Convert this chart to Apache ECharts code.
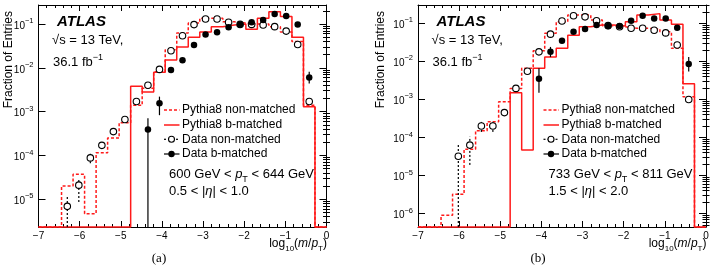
<!DOCTYPE html>
<html><head><meta charset="utf-8">
<script src="https://cdn.jsdelivr.net/npm/echarts@6/dist/echarts.min.js"></script>
<style>html,body{margin:0;padding:0;background:#fff}#c{width:712px;height:270px}</style>
</head><body><div id="c"></div>
<script>
// ---------- data ----------
const binEdges = [-7.00,-6.72,-6.44,-6.16,-5.88,-5.60,-5.32,-5.04,-4.76,-4.48,-4.20,-3.92,-3.64,-3.36,-3.08,-2.80,-2.52,-2.24,-1.96,-1.68,-1.40,-1.12,-0.84,-0.56,-0.28,0.00];
const xTicks = [-7,-6,-5,-4,-3,-2,-1,0];

// panel (a): 600 GeV < pT < 644 GeV, 0.5 < |eta| < 1.0
const yLogRangeA = [-5.633, -0.566];
const yTickExpA = [-5,-4,-3,-2,-1];
const mcNonMatchedA = [0,0,2.0e-5,3.7e-5,4.7e-6,1.15e-4,2.5e-4,5.6e-4,1.4e-3,3.4e-3,8.1e-3,2.6e-2,6.2e-2,0.105,0.135,0.135,0.112,0.105,0.100,0.100,0.087,0.066,0.040,1.4e-3,0];
const mcBMatchedA = [0,0,0,0,0,0,0,0,3.8e-3,2.8e-3,7.9e-3,0.015,0.030,0.050,0.066,0.087,0.095,0.100,0.076,0.135,0.19,0.148,0.050,1.3e-3,0];
const dataNonMatchedA = [null,null,6.9e-6,2.1e-5,8.8e-5,1.7e-4,3.5e-4,6.6e-4,1.7e-3,4.0e-3,9.2e-3,0.0245,0.054,0.097,0.13,0.13,0.11,0.098,0.098,0.095,0.087,0.069,0.034,1.7e-3,null];
const dataNonMatchedErrA = [null,null,[0,1.2e-5],[8.7e-6,2.95e-5],[6.6e-5,1.1e-4],[1.45e-4,2.0e-4],null,null,null,null,null,null,null,null,null,null,null,null,null,null,null,null,null,null,null];
const dataBMatchedA = [null,null,null,null,null,null,null,null,null,3.9e-4,1.55e-3,8.9e-3,0.0148,0.033,0.058,0.065,0.084,0.098,0.11,0.123,0.17,0.152,0.098,6.0e-3,null];
const dataBMatchedErrA = [null,null,null,null,null,null,null,null,null,[0,7.1e-4],[8.3e-4,2.2e-3],null,null,null,null,null,null,null,null,null,null,null,null,[4.4e-3,8.1e-3],null];

// panel (b): 733 GeV < pT < 811 GeV, 1.5 < |eta| < 2.0
const yLogRangeB = [-6.353, -0.518];
const yTickExpB = [-6,-5,-4,-3,-2,-1];
const mcNonMatchedB = [0,0,9.0e-7,3.2e-6,4.9e-5,1.5e-4,2.6e-4,8.7e-4,1.95e-3,6.6e-3,0.019,0.055,0.11,0.166,0.166,0.123,0.087,0.081,0.074,0.074,0.071,0.060,0.022,1.17e-3,0];
const mcBMatchedB = [0,0,0,0,0,0,0,0,1.5e-3,4.7e-5,6.6e-3,0.013,0.022,0.049,0.081,0.091,0.091,0.085,0.11,0.166,0.18,0.123,0.095,2.6e-3,0];
const dataNonMatchedB = [null,null,null,3.2e-5,6.3e-5,2.0e-4,2.0e-4,4.5e-4,1.95e-3,5.5e-3,0.0178,0.052,0.115,0.158,0.148,0.117,0.087,0.081,0.074,0.074,0.066,0.056,0.027,1.0e-3,null];
const dataNonMatchedErrB = [null,null,null,[0,6.3e-5],[1.9e-5,1.05e-4],[1.4e-4,2.9e-4],[1.4e-4,2.9e-4],null,null,null,null,null,null,null,null,null,null,null,null,null,null,null,null,null,null];
const dataBMatchedB = [null,null,null,null,null,null,null,null,null,null,3.5e-3,0.0178,0.035,0.060,0.071,0.091,0.085,0.085,0.117,0.158,0.135,0.135,0.076,8.5e-3,null];
const dataBMatchedErrB = [null,null,null,null,null,null,null,null,null,null,[1.5e-3,6.6e-3],[0.013,0.024],null,null,null,null,null,null,null,null,null,null,null,[5.4e-3,0.013],null];

const legendNames = ['Pythia8 non-matched','Pythia8 b-matched','Data non-matched','Data b-matched'];

// ---------- style ----------
const FONT = '"Liberation Sans", Arial, Helvetica, sans-serif';
const SERIF = '"Liberation Serif", "Times New Roman", serif';
const RED = '#ff1a1a';
const GRID_TOP = 5, GRID_H = 222, GRID_W = 288;

const panels = [
  {left: 38.5, yr: yLogRangeA, exps: yTickExpA, mcN: mcNonMatchedA, mcB: mcBMatchedA, dN: dataNonMatchedA, dNe: dataNonMatchedErrA, dB: dataBMatchedA, dBe: dataBMatchedErrA,
   ptText: '{n|600 GeV < }{i|p}{sub|T}{n| < 644 GeV}', etaText: '{n|0.5 < |}{i|η}{n|| < 1.0}', tag: '(a)', tagX: 159, titleX: 9},
  {left: 418, yr: yLogRangeB, exps: yTickExpB, mcN: mcNonMatchedB, mcB: mcBMatchedB, dN: dataNonMatchedB, dNe: dataNonMatchedErrB, dB: dataBMatchedB, dBe: dataBMatchedErrB,
   ptText: '{n|733 GeV < }{i|p}{sub|T}{n| < 811 GeV}', etaText: '{n|1.5 < |}{i|η}{n|| < 2.0}', tag: '(b)', tagX: 538, titleX: 381}
];

const grid = [], xAxis = [], yAxis = [], series = [], graphic = [];
const centers = binEdges.slice(0, -1).map((e, i) => (e + binEdges[i + 1]) / 2);

const richTick = {
  b: {fontSize: 10, fontFamily: FONT, color: '#000', lineHeight: 14, verticalAlign: 'bottom'},
  s: {fontSize: 7.5, fontFamily: FONT, color: '#000', lineHeight: 7, verticalAlign: 'top'}
};
const richText = {
  n: {fontSize: 13, fontFamily: FONT, color: '#000', lineHeight: 15, verticalAlign: 'top'},
  i: {fontSize: 13, fontFamily: FONT, fontStyle: 'italic', color: '#000', lineHeight: 15, verticalAlign: 'top'},
  sub: {fontSize: 9, fontFamily: FONT, color: '#000', lineHeight: 16.5, verticalAlign: 'bottom'},
  sup: {fontSize: 9, fontFamily: FONT, color: '#000', lineHeight: 9, verticalAlign: 'top'},
  nb: {fontSize: 13, fontFamily: FONT, color: '#000', lineHeight: 16, verticalAlign: 'bottom'}
};
const richTitle = {
  n: {fontSize: 12, fontFamily: FONT, color: '#000', lineHeight: 14, verticalAlign: 'top'},
  i: {fontSize: 12, fontFamily: FONT, fontStyle: 'italic', color: '#000', lineHeight: 14, verticalAlign: 'top'},
  sub: {fontSize: 8, fontFamily: FONT, color: '#000', lineHeight: 15, verticalAlign: 'bottom'}
};

panels.forEach((p, gi) => {
  const [ymin, ymax] = p.yr;
  const L = v => (v > 0 ? Math.log10(v) : ymin);
  grid.push({left: p.left, top: GRID_TOP, width: GRID_W, height: GRID_H});

  const xBase = {
    gridIndex: gi, type: 'value', min: -7, max: 0, interval: 1,
    axisLine: {show: true, onZero: false, lineStyle: {color: '#000', width: 1}},
    axisTick: {show: true, inside: true, length: 6, lineStyle: {color: '#000', width: 1}},
    minorTick: {show: true, splitNumber: 5, length: 3, lineStyle: {color: '#000', width: 1}},
    splitLine: {show: false}, minorSplitLine: {show: false}
  };
  xAxis.push(Object.assign({}, xBase, {position: 'bottom',
    axisLabel: {show: true, margin: 4, fontSize: 10, fontFamily: FONT, color: '#000',
      formatter: v => (v < 0 ? '\u2212' + Math.abs(v) : String(v))}}));
  xAxis.push(Object.assign({}, xBase, {position: 'top', axisLabel: {show: false}}));

  const minors = [];
  for (let n = -8; n <= 0; n++) for (let k = 2; k <= 9; k++) {
    const t = n + Math.log10(k);
    if (t > ymin && t < ymax) minors.push(t);
  }
  const yBase = {gridIndex: gi, type: 'value', min: ymin, max: ymax, splitLine: {show: false}};
  ['left', 'right'].forEach(pos => {
    yAxis.push(Object.assign({}, yBase, {position: pos,
      axisLine: {show: true, onZero: false, lineStyle: {color: '#000', width: 1}},
      axisTick: {show: true, inside: true, length: 7, customValues: p.exps, lineStyle: {color: '#000'}},
      axisLabel: pos === 'left' ? {show: true, customValues: p.exps, margin: 5,
        formatter: v => '{b|10}{s|\u2212' + Math.abs(Math.round(v)) + '}', rich: richTick} : {show: false}
    }));
    yAxis.push(Object.assign({}, yBase, {position: pos,
      axisLine: {show: false},
      axisTick: {show: true, inside: true, length: 3.5, customValues: minors, lineStyle: {color: '#000'}},
      axisLabel: {show: false}
    }));
  });
  const xi = gi * 2, yi = gi * 4;

  const stepData = arr => {
    const d = arr.map((v, i) => [binEdges[i], L(v)]);
    d.push([binEdges[arr.length], L(arr[arr.length - 1])]);
    return d;
  };
  series.push({name: legendNames[0], type: 'line', xAxisIndex: xi, yAxisIndex: yi, step: 'end', symbol: 'none', clip: false,
    data: stepData(p.mcN), lineStyle: {color: RED, width: 1.5, type: [3, 2]}, z: 2, animation: false});
  series.push({name: legendNames[1], type: 'line', xAxisIndex: xi, yAxisIndex: yi, step: 'end', symbol: 'none', clip: false,
    data: stepData(p.mcB), lineStyle: {color: RED, width: 1.5}, z: 3, animation: false});

  const errSeries = (errs, dash) => ({type: 'custom', xAxisIndex: xi, yAxisIndex: yi, z: 4, animation: false,
    data: errs.map((e, i) => e ? [centers[i], L(e[0]), L(e[1])] : null).filter(Boolean),
    renderItem: (params, api) => {
      const a = api.coord([api.value(0), api.value(1)]);
      const b = api.coord([api.value(0), api.value(2)]);
      return {type: 'line', shape: {x1: a[0], y1: a[1], x2: b[0], y2: b[1]},
        style: {stroke: '#000', lineWidth: 1.2, lineDash: dash}};
    }});
  series.push(errSeries(p.dNe, [2, 2]));
  series.push(errSeries(p.dBe, null));

  const pts = arr => arr.map((v, i) => v == null ? null : [centers[i], L(v)]).filter(Boolean);
  series.push({name: legendNames[2], type: 'scatter', xAxisIndex: xi, yAxisIndex: yi, symbol: 'circle', symbolSize: 6.5,
    data: pts(p.dN), itemStyle: {color: '#fff', borderColor: '#000', borderWidth: 1.1, opacity: 1}, z: 5, animation: false});
  series.push({name: legendNames[3], type: 'scatter', xAxisIndex: xi, yAxisIndex: yi, symbol: 'circle', symbolSize: 6.5,
    data: pts(p.dB), itemStyle: {color: '#000', opacity: 1}, z: 6, animation: false});

  // ---- text and legend ----
  const L0 = p.left;
  graphic.push({type: 'text', x: L0 + 18.5, y: 21.7, style: {text: 'ATLAS', font: 'italic bold 15px ' + FONT, fill: '#000', verticalAlign: 'middle'}});
  graphic.push({type: 'text', x: L0 + 13.5, y: 40.7, style: {text: '\u221As = 13 TeV,', font: '13px ' + FONT, fill: '#000', verticalAlign: 'middle'}});
  graphic.push({type: 'text', x: L0 + 14.5, y: 61 - 8, style: {text: '{nb|36.1 fb}{sup|\u22121}', rich: richText, verticalAlign: 'top'}});
  graphic.push({type: 'text', x: L0 + 130.5, y: 174 - 6.5, style: {text: p.ptText, rich: richText, verticalAlign: 'top'}});
  graphic.push({type: 'text', x: L0 + 130.5, y: 191.7 - 6.5, style: {text: p.etaText, rich: richText, verticalAlign: 'top'}});

  const rowsY = [110, 125, 139.3, 154];
  const sx1 = L0 + 125.5, sx2 = L0 + 141, cx = L0 + 133, tx = L0 + 143.5;
  graphic.push({type: 'line', shape: {x1: sx1, y1: rowsY[0], x2: sx2, y2: rowsY[0]}, style: {stroke: RED, lineWidth: 1.5, lineDash: [3, 2]}});
  graphic.push({type: 'line', shape: {x1: sx1, y1: rowsY[1], x2: sx2, y2: rowsY[1]}, style: {stroke: RED, lineWidth: 1.5}});
  graphic.push({type: 'line', shape: {x1: sx1, y1: rowsY[2], x2: sx2, y2: rowsY[2]}, style: {stroke: '#000', lineWidth: 1.2, lineDash: [2, 2]}});
  graphic.push({type: 'circle', shape: {cx: cx, cy: rowsY[2], r: 3}, style: {fill: '#fff', stroke: '#000', lineWidth: 1.1}, z: 10});
  graphic.push({type: 'line', shape: {x1: sx1, y1: rowsY[3], x2: sx2, y2: rowsY[3]}, style: {stroke: '#000', lineWidth: 1.2}});
  graphic.push({type: 'circle', shape: {cx: cx, cy: rowsY[3], r: 3.2}, style: {fill: '#000'}, z: 10});
  legendNames.forEach((nm, i) => graphic.push({type: 'text', x: tx, y: rowsY[i],
    style: {text: nm, font: '12px ' + FONT, fill: '#000', verticalAlign: 'middle'}}));

  graphic.push({type: 'text', x: p.titleX, y: 11, rotation: Math.PI / 2,
    style: {text: 'Fraction of Entries', font: '12px ' + FONT, fill: '#000', align: 'right', verticalAlign: 'middle'}});
  graphic.push({type: 'text', x: L0 + GRID_W + 0.5, y: 243.3 - 6,
    style: {text: '{n|log}{sub|10}{n|(}{i|m}{n|/}{i|p}{sub|T}{n|)}', rich: richTitle, align: 'right', verticalAlign: 'top'}});
  graphic.push({type: 'text', x: p.tagX, y: 259, style: {text: p.tag, font: '13px ' + SERIF, fill: '#000', align: 'center', verticalAlign: 'middle'}});
});

const chart = echarts.init(document.getElementById('c'), null, {renderer: 'canvas'});
chart.setOption({animation: false, backgroundColor: '#fff', grid, xAxis, yAxis, series, graphic});
</script></body></html>
